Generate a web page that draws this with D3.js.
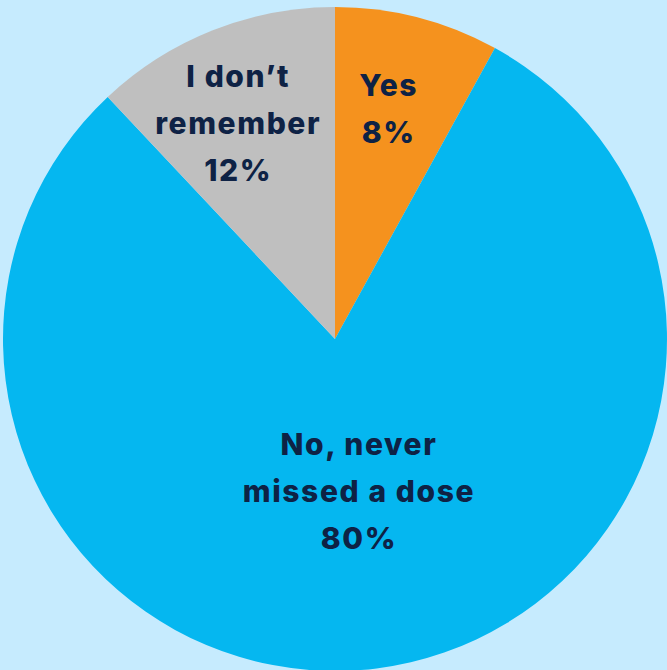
<!DOCTYPE html>
<html><head><meta charset="utf-8">
<script src="https://cdn.jsdelivr.net/npm/d3@7"></script>
<style>html,body{margin:0;padding:0;background:#C6EBFE;}svg{display:block;}</style>
</head><body>
<svg id="chart" width="667" height="670"></svg>
<script>
const categories = ["Yes", "No, never missed a dose", "I don’t remember"];
const values = [8, 80, 12];
const labelLines = [["Yes", "8%"], ["No, never", "missed a dose", "80%"], ["I don’t", "remember", "12%"]];
const colors = ["#F5921E", "#05B7F0", "#BFBFBF"];

const W = 667, H = 670;
const cx = 335, cy = 339, R = 332;
const svg = d3.select("#chart");
svg.append("rect").attr("width", W).attr("height", H).attr("fill", "#C6EBFE");
const g = svg.append("g").attr("transform", `translate(${cx},${cy})`);

const pie = d3.pie().value(d => d).sort(null);
const arcs = pie(values);
const arc = d3.arc().innerRadius(0).outerRadius(R);
const color = d3.scaleOrdinal().domain(categories).range(colors);

g.selectAll("path").data(arcs).enter().append("path")
  .attr("d", arc).attr("fill", (d, i) => color(categories[i]));

const lineH = 47;
arcs.forEach((a, i) => {
  const lr = values[i] > 50 ? R * 0.465 : R * 0.71;
  const ang = (a.startAngle + a.endAngle) / 2 + (i === 2 ? -0.05 : -0.025);
  const x = lr * Math.sin(ang), y = -lr * Math.cos(ang);
  const lines = labelLines[i];
  const t = g.append("text").attr("text-anchor", "middle")
    .attr("font-family", "Inter, 'Noto Sans', sans-serif")
    .attr("font-weight", 800).attr("font-size", 30)
    .attr("letter-spacing", 1.6).attr("fill", "#0E2245");
  lines.forEach((s, j) => {
    t.append("tspan").attr("x", x + 0.8)
      .attr("y", y + (j - (lines.length - 1) / 2) * lineH + 10).text(s);
  });
});
</script>
</body></html>
